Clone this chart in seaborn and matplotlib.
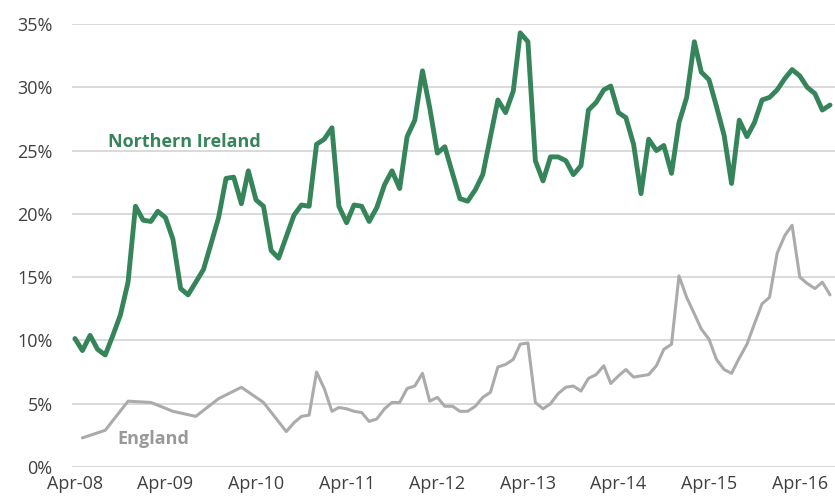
import matplotlib
matplotlib.use("Agg")
import matplotlib.pyplot as plt
from matplotlib.ticker import PercentFormatter
import numpy as np
import pandas as pd
import seaborn as sns

# Monthly share, Northern Ireland (Apr-08 .. Aug-16)
ni_months = pd.date_range("2008-04-01", "2016-08-01", freq="MS")
ni_values = [
    10.15, 9.2, 10.4, 9.3, 8.85, 10.4, 12.0, 14.6, 20.6, 19.5, 19.4, 20.2,
    19.7, 18.0, 14.1, 13.6, 14.6, 15.6, 17.6, 19.7, 22.8, 22.9, 20.8, 23.4,
    21.1, 20.6, 17.1, 16.5, 18.2, 19.9, 20.7, 20.6, 25.5, 25.9, 26.8, 20.6,
    19.3, 20.7, 20.6, 19.4, 20.5, 22.3, 23.4, 22.0, 26.1, 27.4, 31.3, 28.4,
    24.8, 25.3, 23.2, 21.2, 21.0, 21.9, 23.1, 26.1, 29.0, 28.0, 29.7, 34.3,
    33.6, 24.2, 22.6, 24.5, 24.5, 24.2, 23.1, 23.8, 28.2, 28.8, 29.8, 30.1,
    28.0, 27.6, 25.5, 21.6, 25.9, 25.0, 25.4, 23.2, 27.2, 29.2, 33.6, 31.2,
    30.6, 28.5, 26.2, 22.4, 27.4, 26.1, 27.2, 29.0, 29.2, 29.8, 30.7, 31.4,
    30.9, 30.0, 29.5, 28.2, 28.6,
]

# England: quarterly to May-10, monthly from Aug-10
eng_months = pd.to_datetime(
    ["2008-05-01", "2008-08-01", "2008-11-01", "2009-02-01", "2009-05-01",
     "2009-08-01", "2009-11-01", "2010-02-01", "2010-05-01"]
).append(pd.date_range("2010-08-01", "2016-08-01", freq="MS"))
eng_values = [
    2.3, 2.9, 5.2, 5.1, 4.4, 4.0, 5.4, 6.3, 5.1,
    2.8, 3.5, 4.0, 4.1, 7.5, 6.2, 4.4, 4.7, 4.6, 4.4, 4.3, 3.6,
    3.8, 4.6, 5.1, 5.1, 6.2, 6.4, 7.4, 5.2, 5.5, 4.8, 4.8, 4.4,
    4.4, 4.8, 5.5, 5.9, 7.9, 8.1, 8.5, 9.7, 9.8, 5.1, 4.6, 5.0,
    5.8, 6.3, 6.4, 6.0, 7.0, 7.3, 8.0, 6.6, 7.2, 7.7, 7.1, 7.2,
    7.3, 8.0, 9.3, 9.7, 15.1, 13.4, 12.1, 10.9, 10.1, 8.5, 7.7, 7.4,
    8.6, 9.7, 11.3, 12.9, 13.4, 16.9, 18.3, 19.1, 15.0, 14.5, 14.1, 14.6,
    13.6,
]

tick_dates = pd.date_range("2008-04-01", "2016-04-01", freq="12MS")
tick_labels = [d.strftime("Apr-%y") for d in tick_dates]

ni_df = pd.DataFrame({"month": ni_months, "share": ni_values})
eng_df = pd.DataFrame({"month": eng_months, "share": eng_values})

GREEN = "#36845a"
GREY_LINE = "#ababab"
GREY_TEXT = "#999999"
TEXT = "#404040"

sns.set_style("white")
plt.rcParams["font.family"] = ["Open Sans", "DejaVu Sans"]

fig = plt.figure(figsize=(8.35, 5.0), dpi=100)
ax = fig.add_axes([0.0862, 0.066, 0.9138, 0.886])

sns.lineplot(data=eng_df, x="month", y="share", ax=ax, color=GREY_LINE,
             linewidth=2.2, zorder=3)
sns.lineplot(data=ni_df, x="month", y="share", ax=ax, color=GREEN,
             linewidth=3.5, zorder=4)

ax.set_ylim(0, 35)
ax.set_xlim(pd.Timestamp("2008-03-20"), pd.Timestamp("2016-08-21"))
ax.set_yticks(np.arange(0, 36, 5))
ax.yaxis.set_major_formatter(PercentFormatter(decimals=0))
ax.set_xticks(tick_dates)
ax.set_xticklabels(tick_labels)

ax.grid(axis="y", color="#d9d9d9", linewidth=1.4, zorder=0)
ax.grid(axis="x", visible=False)
for s in ax.spines.values():
    s.set_visible(False)
ax.tick_params(axis="y", length=0, pad=14, labelsize=13, labelcolor=TEXT)
ax.tick_params(axis="x", length=0, pad=6, labelsize=13, labelcolor=TEXT)
ax.set_xlabel("")
ax.set_ylabel("")

ax.text(pd.Timestamp("2008-08-13"), 25.7, "Northern Ireland", color=GREEN,
        fontsize=13, fontweight="bold", ha="left", va="center")
ax.text(pd.Timestamp("2008-09-18"), 2.25, "England", color=GREY_TEXT,
        fontsize=13, fontweight="bold", ha="left", va="center")

fig.savefig("out.png", dpi=100)
